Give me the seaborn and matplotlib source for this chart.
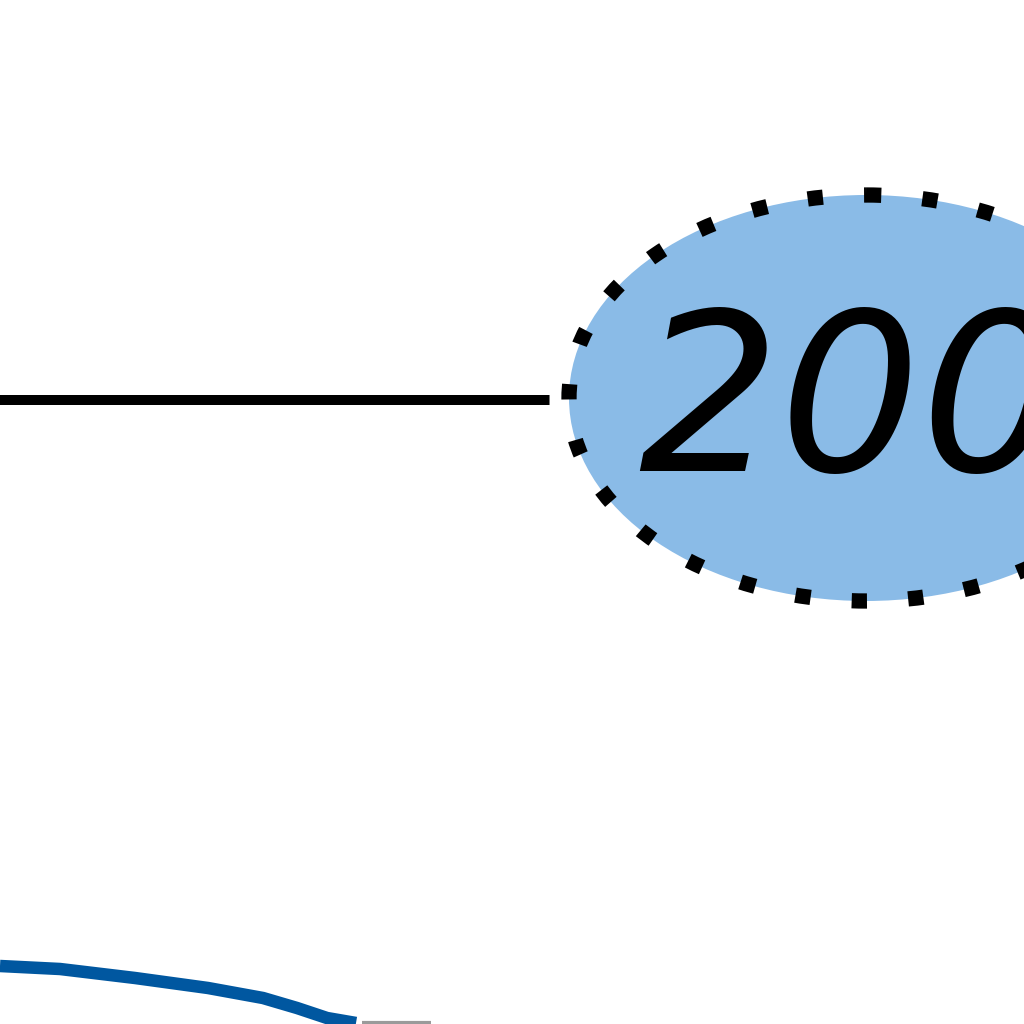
import matplotlib
matplotlib.use('Agg')
import matplotlib.pyplot as plt
import matplotlib.transforms as mtransforms
from matplotlib.patches import Ellipse
import seaborn as sns

# 数据（画面坐标，y 向下）
blue_x = [0, 60, 135, 208, 263, 297, 327, 356]
blue_y = [966, 969, 978, 988, 998, 1008, 1018, 1023]
gray_x = [362, 431]
gray_y = [1023, 1023]
label_text = '200'
label_x, label_y = 866, 398
line_start = (-300, 400)

sns.set_theme(style='white')
plt.rcParams['font.family'] = ['DejaVu Sans']

fig = plt.figure(figsize=(10.24, 10.24), dpi=100)
ax = fig.add_axes([0, 0, 1, 1])

sns.lineplot(x=blue_x, y=blue_y, ax=ax, color='#0057A0', linewidth=9,
             sort=False, solid_capstyle='butt')
sns.lineplot(x=gray_x, y=gray_y, ax=ax, color='#9A9A9A', linewidth=3,
             sort=False, solid_capstyle='butt')

# 椭圆标签
ell = Ellipse((label_x, label_y), width=594, height=406, fc='#8ABBE7',
              ec='black', lw=11, ls=(0, (1, 2.7)), zorder=3)
ax.add_patch(ell)

# 引线
ax.annotate('', xy=line_start, xytext=(label_x, 400), annotation_clip=False,
            arrowprops=dict(arrowstyle='-', color='black', lw=7.2,
                            shrinkA=18, shrinkB=0, patchA=ell,
                            capstyle='butt'), zorder=2)

shift = mtransforms.offset_copy(ax.transData, fig=fig, x=-16, y=-12, units='dots')
ax.text(label_x, label_y, label_text, transform=shift, fontsize=160,
        style='italic', color='black', ha='center', va='center', zorder=4)

ax.set_xlim(0, 1024)
ax.set_ylim(1024, 0)
ax.axis('off')

fig.savefig('out.png', dpi=100)
